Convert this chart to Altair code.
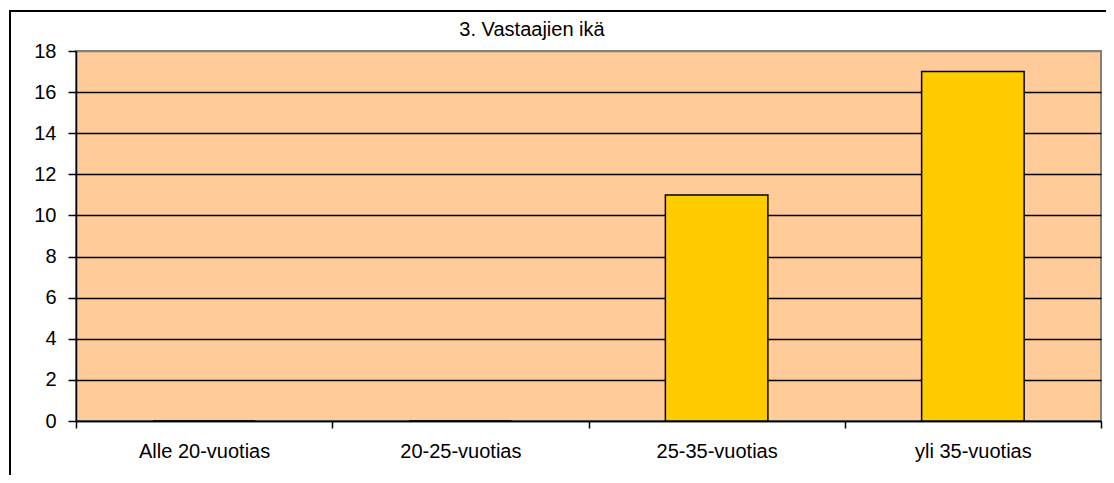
import altair as alt
import pandas as pd

categories = ["Alle 20-vuotias", "20-25-vuotias", "25-35-vuotias", "yli 35-vuotias"]
values = [0, 0, 11, 17]
y_ticks = [0, 2, 4, 6, 8, 10, 12, 14, 16, 18]
title_text = "3. Vastaajien ikä"

df = pd.DataFrame({"cat": categories, "val": values})

FONT = "Liberation Sans"
FS = 20

x_enc = alt.X(
    "cat:N",
    sort=categories,
    scale=alt.Scale(paddingInner=0, paddingOuter=0),
    axis=alt.Axis(
        title=None,
        labelAngle=0,
        tickBand="extent",
        tickSize=7,
        tickColor="black",
        tickWidth=1.5,
        domainColor="black",
        domainWidth=1.5,
        labelFont=FONT,
        labelFontSize=FS,
        labelColor="black",
        labelPadding=13,
        labelBaseline="top",
        grid=False,
    ),
)

y_enc = alt.Y(
    "val:Q",
    scale=alt.Scale(domain=[0, 18], nice=False),
    axis=alt.Axis(
        title=None,
        values=y_ticks,
        tickSize=8,
        tickColor="black",
        tickWidth=1.5,
        domainColor="black",
        domainWidth=1.5,
        labelFont=FONT,
        labelFontSize=FS,
        labelColor="black",
        labelPadding=12,
        grid=True,
        gridColor=alt.condition("datum.value === 18", alt.value("#808080"), alt.value("black")),
        gridWidth=1.5,
        gridOpacity=1,
    ),
)

bars = alt.Chart(df).mark_bar(
    width=alt.RelativeBandSize(0.4),
    color="#FFCC00",
    stroke="black",
    strokeWidth=1.5,
).encode(x=x_enc, y=y_enc)

frame = alt.Chart(alt.Data(values=[{}])).mark_rect(
    fill="transparent", stroke="black", strokeWidth=2
).encode(
    x=alt.value(-66), x2=alt.value(1300), y=alt.value(-40), y2=alt.value(700)
)

title = alt.Chart(alt.Data(values=[{"t": title_text}])).mark_text(
    font=FONT, fontSize=FS, color="black", align="center", baseline="alphabetic"
).encode(
    text="t:N", x=alt.value(456), y=alt.value(-15)
)

chart = alt.layer(bars, frame, title).properties(
    width=1025,
    height=370,
    padding={"left": 68, "top": 43, "right": 5, "bottom": 54},
    autosize=alt.AutoSizeParams(type="none"),
).configure_view(
    fill="#FFCC99", stroke="#808080", strokeWidth=2
)

chart.save("out.html", embed_options={"renderer": "svg", "actions": False})
